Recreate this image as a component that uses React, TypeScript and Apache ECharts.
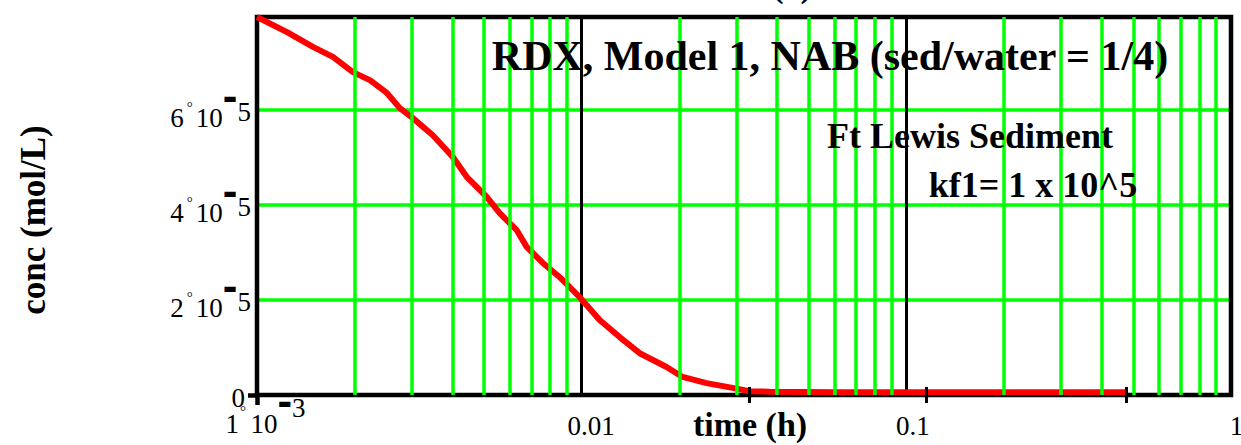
import React, { useEffect, useRef } from "react";
import * as echarts from "echarts";

// ---- data ----
const timeH = [0.001, 0.001237, 0.001487, 0.001713, 0.001974, 0.002227, 0.002512, 0.002754, 0.00302, 0.00348, 0.00401, 0.00443, 0.0051, 0.00559, 0.00631, 0.00677, 0.00759, 0.00856, 0.00986, 0.01136, 0.01309, 0.01509, 0.01826, 0.02046, 0.02424, 0.02915, 0.0329, 0.0379, 0.06, 0.2, 0.475];
const conc = [7.96e-5, 7.64e-5, 7.33e-5, 7.12e-5, 6.8e-5, 6.63e-5, 6.36e-5, 6.04e-5, 5.83e-5, 5.47e-5, 5.01e-5, 4.59e-5, 4.17e-5, 3.83e-5, 3.47e-5, 3.12e-5, 2.78e-5, 2.48e-5, 2.06e-5, 1.58e-5, 1.22e-5, 0.88e-5, 0.59e-5, 0.38e-5, 0.25e-5, 0.15e-5, 0.08e-5, 0.07e-5, 0.06e-5, 0.06e-5, 0.06e-5];

const minorGrid = [0.002, 0.003, 0.004, 0.005, 0.006, 0.007, 0.008, 0.009, 0.02, 0.03, 0.04, 0.05, 0.06, 0.07, 0.08, 0.09, 0.2, 0.3, 0.4, 0.5, 0.6, 0.7, 0.8, 0.9];
const oddTicks = [0.0329, 0.1153, 0.475];

const yMin = 0;
const yMax = 7.96e-5;
const yStep = 2e-5;
const yMantissa = ["0", "2", "4", "6"];
const yExponent = "5";
const xMantissa0 = "1";
const xExponent0 = "3";
const xTickLabels = ["1e-3", "0.01", "0.1", "1"];

const titleTop = "(1)";
const titleMain = "RDX, Model 1, NAB (sed/water = 1/4)";
const note1 = "Ft Lewis Sediment";
const note2 = "kf1= 1 x 10^5";
const xTitle = "time (h)";
const yTitle = "conc (mol/L)";

const SERIF = '"Liberation Serif", "Times New Roman", serif';
const SANS = '"Liberation Sans", Arial, sans-serif';

export default function App() {
  const ref = useRef<HTMLDivElement>(null);
  useEffect(() => {
    if (!ref.current) return;
    const chart = echarts.init(ref.current, null, { renderer: "svg" });
    const base = { fontFamily: SERIF, fontSize: 27, color: "#000", lineHeight: 27 };
    const deg = { fontFamily: SERIF, fontSize: 15, color: "#000", lineHeight: 27 };
    const minus = { fontFamily: SANS, fontWeight: "bold", fontSize: 44, color: "#000", lineHeight: 27 };
    const txt = (text: string, x: number, y: number, size: number, extra: any = {}) => ({
      type: "text", x, y, z: 20, ...extra,
      style: { text, font: `bold ${size}px ${SERIF}`, fill: "#000", align: "center", verticalAlign: "middle", textAlign: "center", textVerticalAlign: "middle" },
    });
    const option: any = {
      animation: false,
      backgroundColor: "#fff",
      grid: { left: 257, top: 17, right: 10, bottom: 50, z: 2, outerBoundsMode: "none", containLabel: false, show: true, borderColor: "#000", borderWidth: 4.5, backgroundColor: "transparent" },
      xAxis: [
        {
          type: "log", logBase: 10, min: 0.001, max: 1, position: "bottom",
          axisLine: { show: false, onZero: false },
          axisTick: { show: false },
          splitLine: { show: true, lineStyle: { color: "#000", width: 3 } },
          axisLabel: {
            show: true, showMinLabel: true, showMaxLabel: true, margin: 0, hideOverlap: false,
            formatter: (v: number) => {
              const idx = Math.round(Math.log10(v) + 3);
              if (idx === 0) return `{m0|${xMantissa0}}{xd|°}{m|10}{xmi|-}{xs|${xExponent0}}`;
              return `{p${idx}|${xTickLabels[idx]}}`;
            },
            rich: {
              m0: { ...base, padding: [31, 0, 0, 17] },
              m: { ...base, padding: [31, 0, 0, 0] },
              xd: { ...deg, padding: [5, 4.5, 0, 1] },
              xmi: { ...minus, padding: [0, 0, 17, 0] },
              xs: { ...base, padding: [0, 0, 1, 0] },
              p1: { ...base, padding: [35, 0, 0, 19] },
              p2: { ...base, padding: [35, 0, 0, 13] },
              p3: { ...base, padding: [35, 0, 0, 11] },
            },
          },
        },
        {
          type: "value", min: -3, max: 0, position: "bottom", z: 10,
          axisLine: { show: false, onZero: false }, axisLabel: { show: false }, splitLine: { show: false },
          axisTick: { show: true, inside: true, length: 8, customValues: oddTicks.map((t) => Math.log10(t)), lineStyle: { color: "#000", width: 3 } },
        },
        {
          type: "value", min: -3, max: 0, position: "bottom", z: 10,
          axisLine: { show: false, onZero: false }, axisLabel: { show: false }, splitLine: { show: false },
          axisTick: { show: true, inside: false, length: 8, customValues: oddTicks.map((t) => Math.log10(t)), lineStyle: { color: "#000", width: 3 } },
        },
        {
          type: "value", min: -3, max: 0, position: "bottom", z: 10,
          axisLine: { show: false, onZero: false }, axisLabel: { show: false }, splitLine: { show: false },
          axisTick: { show: true, inside: false, length: 10, customValues: [-3], lineStyle: { color: "#000", width: 4.5 } },
        },
      ],
      yAxis: [
        {
          type: "value", min: yMin, max: yMax, interval: yStep, position: "left",
          axisLine: { show: false, onZero: false },
          axisTick: { show: false },
          splitLine: { show: true, lineStyle: { color: "#00ff00", width: 3.5 } },
          axisLabel: {
            show: true, margin: 6, hideOverlap: false,
            formatter: (v: number) => {
              const k = Math.round(v / yStep);
              if (Math.abs(v - k * yStep) > yStep * 0.01 || k >= yMantissa.length) return "";
              if (k === 0) return `{z|${yMantissa[0]}}`;
              return `{ym|${yMantissa[k]}}{yd|°}{ym|10}{ymi|-}{ys|${yExponent}}`;
            },
            rich: {
              z: { ...base, padding: [6, 6, 0, 0] },
              ym: { ...base, padding: [16, 0, 0, 0] },
              yd: { ...deg, padding: [0, 3, 6, 3] },
              ymi: { ...minus, padding: [0, 0, 30, 0] },
              ys: { ...base, padding: [3, 0, 0, 0] },
            },
          },
        },
        {
          type: "value", min: yMin, max: yMax, position: "left", z: 10,
          axisLine: { show: false, onZero: false }, axisLabel: { show: false }, splitLine: { show: false },
          axisTick: { show: true, inside: false, length: 9, customValues: [0], lineStyle: { color: "#000", width: 4.5 } },
        },
      ],
      series: [
        {
          type: "line", xAxisIndex: 0, yAxisIndex: 0, data: [], z: 1, silent: true,
          markLine: {
            silent: true, symbol: ["none", "none"], label: { show: false }, animation: false, precision: 10,
            lineStyle: { color: "#00ff00", width: 3.5, type: "solid" },
            emphasis: { disabled: true },
            data: minorGrid.map((v) => ({ xAxis: v })),
          },
        },
        {
          type: "line", xAxisIndex: 0, yAxisIndex: 0, z: 3, silent: true,
          showSymbol: false, symbol: "none",
          lineStyle: { color: "#ff0000", width: 6 },
          data: timeH.map((t, i) => [t, conc[i]]),
        },
      ],
      graphic: [
        txt(titleTop, 792, -15, 34),
        txt(titleMain, 830, 56, 42),
        txt(note1, 970, 136, 36),
        txt(note2, 1033, 185, 36),
        txt(xTitle, 750, 424, 34),
        txt(yTitle, 33, 220, 35, { rotation: Math.PI / 2 }),
      ],
    };
    chart.setOption(option);
    return () => chart.dispose();
  }, []);
  return <div ref={ref} style={{ position: "absolute", left: 0, top: 0, width: 1241, height: 445 }} />;
}
